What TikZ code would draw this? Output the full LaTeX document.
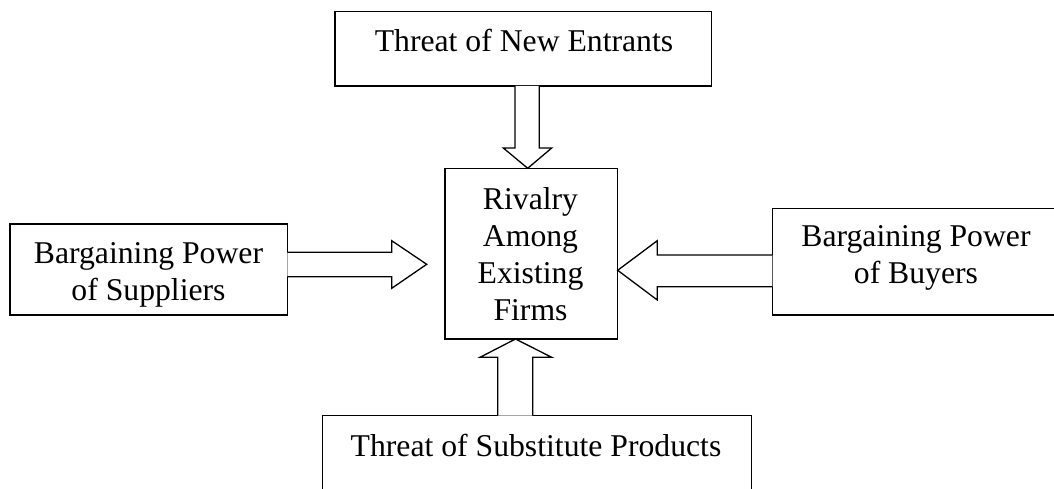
\documentclass[tikz,border=0pt]{standalone}
\usepackage{fontspec}
\setmainfont{Liberation Serif}
\begin{document}
\begin{tikzpicture}[x=1pt,y=-1pt,
  box/.style={draw, line width=1.3pt, inner sep=0pt, outer sep=0pt},
  lbl/.style={font=\fontsize{31.7}{37}\selectfont, inner sep=0pt, anchor=base, align=center},
  blockarrow/.style={draw, line width=1.3pt, fill=white, line join=miter}]
\useasboundingbox (0,0) rectangle (1054,489);
% boxes
\node[box, minimum width=376.7, minimum height=74.3] (top) at (523.35,48.85) {};
\node[box, minimum width=172.7, minimum height=170.7] (mid) at (531.35,253.65) {};
\node[box, minimum width=277.3, minimum height=91] (left) at (148.65,269.5) {};
\node[box, minimum width=288, minimum height=106.7] (right) at (916.3,261.65) {};
\node[box, minimum width=429.4, minimum height=90] (bottom) at (537,460.7) {};
% texts (multi-line labels are anchored at the baseline of their last line)
\node[lbl] (ttop) at (524,52) {Threat of New Entrants};
\node[lbl] (tmid) at (530.5,320) {Rivalry\\Among\\Existing\\Firms};
\node[lbl] (tleft) at (148.5,300) {Bargaining Power\\of Suppliers};
\node[lbl] (tright) at (916,283) {Bargaining Power\\of Buyers};
\node[lbl] (tbottom) at (536,456.5) {Threat of Substitute Products};
% block arrows
\draw[blockarrow] (top.south -| 515,0) -- (515,148) -- (503.3,148) -- (mid.north -| 527.7,0)
  -- (551.7,148) -- (539.3,148) -- (top.south -| 539.3,0);
\draw[blockarrow] (left.east |- 0,252.3) -- (391.7,252.3) -- (391.7,240.7) -- (426.7,264.3)
  -- (391.7,288.3) -- (391.7,276.7) -- (left.east |- 0,276.7);
\draw[blockarrow] (right.west |- 0,255) -- (657.3,255) -- (657.3,240.7) -- (mid.east |- 0,270.3)
  -- (657.3,300) -- (657.3,286.7) -- (right.west |- 0,286.7);
\draw[blockarrow] (bottom.north -| 497.7,0) -- (497.7,357.3) -- (480,357.3) -- (mid.south -| 515.5,0)
  -- (551.7,357.3) -- (532.7,357.3) -- (bottom.north -| 532.7,0);
\end{tikzpicture}
\end{document}
